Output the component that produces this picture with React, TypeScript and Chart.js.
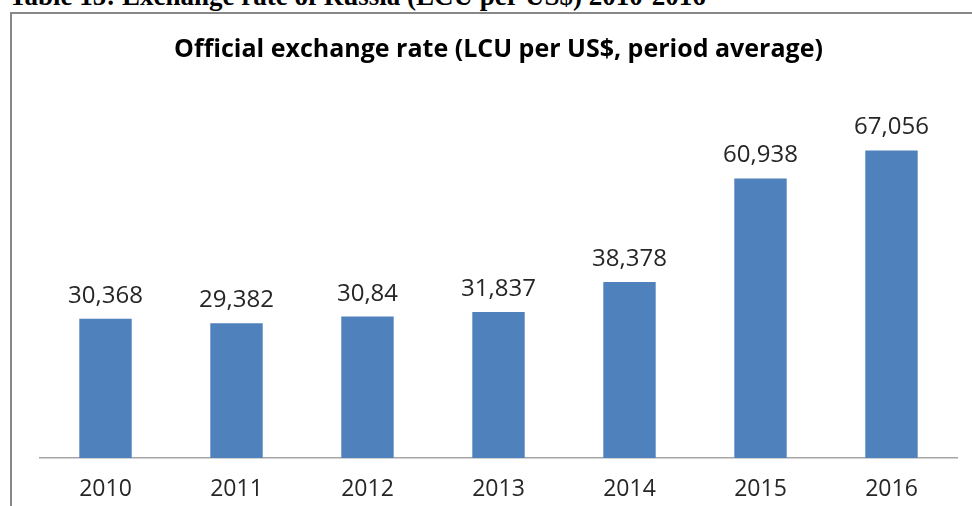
import React, { useEffect, useRef } from "react";
import { Chart, registerables } from "chart.js";

Chart.register(...registerables);

const categories = ["2010", "2011", "2012", "2013", "2014", "2015", "2016"];
const values = [30.368, 29.382, 30.84, 31.837, 38.378, 60.938, 67.056];
const titleText = "Official exchange rate (LCU per US$, period average)";
const captionText = "Table 15: Exchange rate of Russia (LCU per US$) 2010-2016";

const FONT = "'Open Sans', 'Noto Sans', sans-serif";

const dataLabelPlugin = {
  id: "dataLabels",
  afterDatasetsDraw(chart: any) {
    const ctx = chart.ctx;
    const meta = chart.getDatasetMeta(0);
    ctx.save();
    ctx.font = `24px ${FONT}`;
    ctx.fillStyle = "#262626";
    ctx.textAlign = "center";
    ctx.textBaseline = "alphabetic";
    meta.data.forEach((bar: any, i: number) => {
      const label = String(values[i]).replace(".", ",");
      ctx.fillText(label, bar.x, bar.y - 16);
    });
    ctx.restore();
  },
};

export default function App() {
  const canvasRef = useRef<HTMLCanvasElement | null>(null);

  useEffect(() => {
    if (!canvasRef.current) return;
    const chart = new Chart(canvasRef.current, {
      type: "bar",
      data: {
        labels: categories,
        datasets: [
          {
            data: values,
            backgroundColor: "#4F81BD",
            borderWidth: 0,
            categoryPercentage: 1,
            barPercentage: 0.4,
          },
        ],
      },
      options: {
        animation: false,
        responsive: false,
        maintainAspectRatio: false,
        layout: { padding: { left: 40, right: 15, top: 14, bottom: 0 } },
        plugins: {
          legend: { display: false },
          tooltip: { enabled: false },
          title: {
            display: true,
            text: titleText,
            color: "#000000",
            font: { family: FONT, size: 25, weight: "bold", lineHeight: 1.2 },
            padding: { top: 21, bottom: 26 },
          },
        },
        scales: {
          x: {
            grid: { display: false, drawTicks: false },
            border: { display: true, color: "#a6a6a6", width: 1.5 },
            ticks: {
              color: "#262626",
              font: { family: FONT, size: 23, lineHeight: 1.2 },
              padding: 18,
            },
            afterFit: (scale: any) => {
              scale.height = 48;
            },
          },
          y: {
            display: false,
            min: 0,
            max: 80,
          },
        },
      },
      plugins: [dataLabelPlugin],
    });
    return () => chart.destroy();
  }, []);

  return (
    <div
      style={{
        position: "fixed",
        left: 0,
        top: 0,
        width: 972,
        height: 506,
        overflow: "hidden",
        background: "#ffffff",
      }}
    >
      <div
        style={{
          position: "absolute",
          left: 9,
          top: -17,
          fontFamily: "'Liberation Serif', 'Times New Roman', serif",
          fontWeight: "bold",
          fontSize: 27,
          lineHeight: "27px",
          whiteSpace: "nowrap",
          color: "#000",
        }}
      >
        {captionText}
      </div>
      <div
        style={{
          position: "absolute",
          left: 10,
          top: 12,
          width: 1000,
          height: 600,
          borderLeft: "2px solid #888888",
          borderTop: "2px solid #888888",
          boxSizing: "border-box",
        }}
      />
      <canvas
        ref={canvasRef}
        width={972}
        height={506}
        style={{ position: "absolute", left: 0, top: 0 }}
      />
    </div>
  );
}
